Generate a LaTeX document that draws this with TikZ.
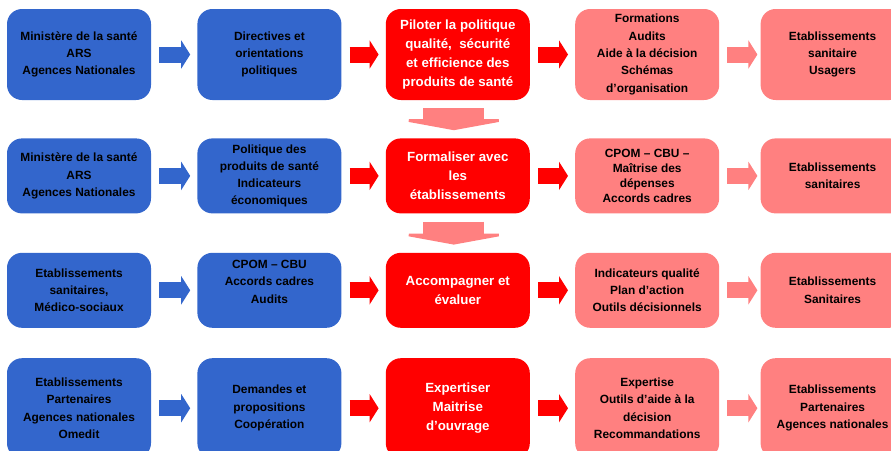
\documentclass[tikz,border=0pt]{standalone}
\usepackage{fontspec}
\setmainfont{Liberation Sans}
\usetikzlibrary{positioning,arrows.meta}
\definecolor{boxblue}{RGB}{51,102,204}
\definecolor{boxred}{RGB}{255,0,0}
\definecolor{boxpink}{RGB}{255,128,128}

\begin{document}
\begin{tikzpicture}[
    box/.style={rounded corners=15pt, minimum width=144pt, inner sep=2pt, align=center},
    bluebox/.style={box, fill=boxblue, text=black, font=\fontsize{11.9}{17.3}\selectfont\bfseries},
    redbox/.style={box, fill=boxred, text=white, font=\fontsize{13.3}{18.9}\selectfont\bfseries},
    pinkbox/.style={box, fill=boxpink, text=black, font=\fontsize{11.9}{17.3}\selectfont\bfseries},
    rowa/.style={minimum height=91pt},
    rowb/.style={minimum height=75pt},
    rowd/.style={minimum height=100pt},
    flow/.style={line width=16pt, -{Triangle[length=9pt,width=28pt]}, shorten <=8pt, shorten >=7pt},
    drop/.style={draw=boxpink, line width=61pt, -{Triangle[length=11pt,width=120pt]}, shorten <=8pt, shorten >=8pt},
]
    \useasboundingbox (0,0) rectangle (891pt,-450pt);
    \clip (0,0) rectangle (891pt,-450pt);
    % nodes, first row
    \node[bluebox, rowa]   (min)   at (79pt,-54.5pt)    {Ministère de la santé\\ARS\\Agences Nationales};
    \node[bluebox, rowa]   (dir)   [right=46pt of min]  {Directives et\\orientations\\politiques};
    \node[redbox, rowa]    (pil)   [right=44pt of dir]  {Piloter la politique\\qualité,\ \ sécurité\\et efficience des\\produits de santé};
    \node[pinkbox, rowa]   (frm)   [right=45pt of pil]  {Formations\\Audits\\Aide à la décision\\Schémas\\d’organisation};
    \node[pinkbox, rowa]   (usa)   [right=41pt of frm]  {Etablissements\\sanitaire\\Usagers};
    % nodes, second row
    \node[bluebox, rowb]   (mintwo) [below=38pt of min]    {Ministère de la santé\\ARS\\Agences Nationales};
    \node[bluebox, rowb]   (pol)   [right=46pt of mintwo]  {Politique des\\produits de santé\\Indicateurs\\économiques};
    \node[redbox, rowb]    (forma) [right=44pt of pol]     {Formaliser avec\\les\\établissements};
    \node[pinkbox, rowb, font=\fontsize{11.9}{14.7}\selectfont\bfseries]
                           (cpom)  [right=45pt of forma]   {CPOM -- CBU --\\Maîtrise des\\dépenses\\Accords cadres};
    \node[pinkbox, rowb]   (etab)  [right=41pt of cpom]    {Etablissements\\sanitaires};
    % nodes, third row
    \node[bluebox, rowb]   (medico) [below=39pt of mintwo] {Etablissements\\sanitaires,\\Médico-sociaux};
    \node[bluebox, rowb]   (cbu)   [right=46pt of medico]  {CPOM -- CBU\\Accords cadres\\Audits\\~};
    \node[redbox, rowb]    (acc)   [right=44pt of cbu]     {Accompagner et\\évaluer};
    \node[pinkbox, rowb]   (ind)   [right=45pt of acc]     {Indicateurs qualité\\Plan d’action\\Outils décisionnels};
    \node[pinkbox, rowb]   (san)   [right=41pt of ind]     {Etablissements\\Sanitaires};
    % nodes, fourth row
    \node[bluebox, rowd]   (part)  [below=30pt of medico]  {Etablissements\\Partenaires\\Agences nationales\\Omedit};
    \node[bluebox, rowd]   (dem)   [right=46pt of part]    {Demandes et\\propositions\\Coopération};
    \node[redbox, rowd]    (exp)   [right=44pt of dem]     {Expertiser\\Maitrise\\d’ouvrage};
    \node[pinkbox, rowd]   (out)   [right=45pt of exp]     {Expertise\\Outils d’aide à la\\décision\\Recommandations};
    \node[pinkbox, rowd]   (agn)   [right=41pt of out]     {Etablissements\\Partenaires\\Agences nationales};
    % lines
    \draw[flow, boxblue] (min) -- (dir);
    \draw[flow, boxred]  (dir) -- (pil);
    \draw[flow, boxred]  (pil) -- (frm);
    \draw[flow, boxpink, shorten >=3pt] (frm) -- (usa);
    \draw[flow, boxblue] (mintwo) -- (pol);
    \draw[flow, boxred]  (pol) -- (forma);
    \draw[flow, boxred]  (forma) -- (cpom);
    \draw[flow, boxpink, shorten >=3pt] (cpom) -- (etab);
    \draw[flow, boxblue] (medico) -- (cbu);
    \draw[flow, boxred]  (cbu) -- (acc);
    \draw[flow, boxred]  (acc) -- (ind);
    \draw[flow, boxpink, shorten >=3pt] (ind) -- (san);
    \draw[flow, boxblue] (part) -- (dem);
    \draw[flow, boxred]  (dem) -- (exp);
    \draw[flow, boxred]  (exp) -- (out);
    \draw[flow, boxpink, shorten >=3pt] (out) -- (agn);
    \draw[drop] ([xshift=-4pt]pil.south) -- ([xshift=-4pt]forma.north);
    \draw[drop] ([xshift=-4pt]forma.south) -- ([xshift=-4pt]acc.north);
\end{tikzpicture}
\end{document}
